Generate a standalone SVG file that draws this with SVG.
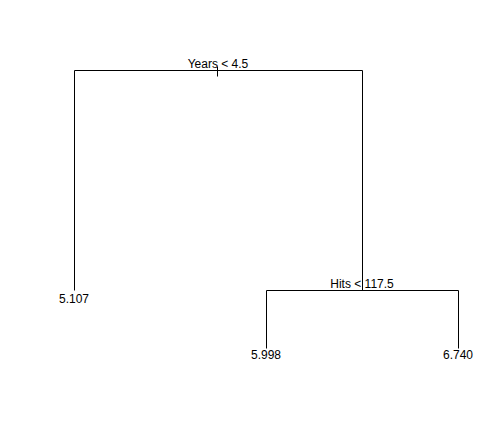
<svg xmlns="http://www.w3.org/2000/svg" width="504" height="432" viewBox="0 0 504 432">
<style>
.e{stroke:#000;stroke-width:1;fill:none}
text{font-family:"Liberation Sans",Arial,sans-serif;font-size:12px;fill:#000;text-anchor:middle}
</style>
<rect width="504" height="432" fill="#fff"/>
<g id="connectors">
<path class="e" d="M217.5 66.5V76.5"/>
<path class="e" d="M74.5 290.5V70.5H362.5V290.5"/>
<path class="e" d="M266.5 348.5V290.5H458.5V348.5"/>
</g>
<g id="root"><text x="218" y="68">Years &lt; 4.5</text></g>
<g id="leaf1"><text x="74" y="303">5.107</text></g>
<g id="split2"><text x="362" y="288">Hits &lt; 117.5</text></g>
<g id="leaf2"><text x="266" y="359">5.998</text></g>
<g id="leaf3"><text x="458" y="359">6.740</text></g>
</svg>
